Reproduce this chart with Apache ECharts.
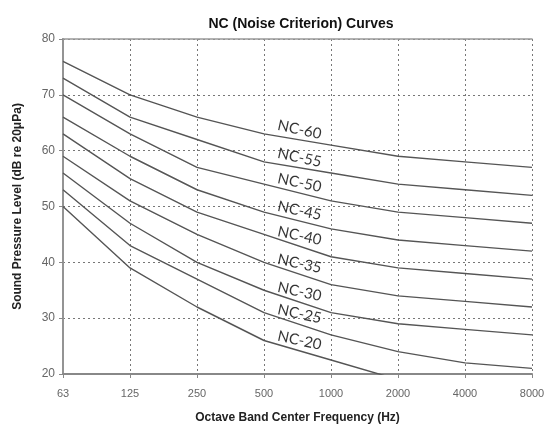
<!DOCTYPE html>
<html>
<head>
<meta charset="utf-8">
<script src="https://cdn.jsdelivr.net/npm/echarts@6/dist/echarts.min.js"></script>
<style>html,body{margin:0;padding:0;background:#fff}#c{width:553px;height:429px}</style>
</head>
<body>
<div id="c"></div>
<script>
const freqLabels = ['63','125','250','500','1000','2000','4000','8000'];
const curveNames = ['NC-60','NC-55','NC-50','NC-45','NC-40','NC-35','NC-30','NC-25','NC-20'];
const nc60 = [76,70,66,63,61,59,58,57];
const nc55 = [73,66,62,58,56,54,53,52];
const nc50 = [70,63,57,54,51,49,48,47];
const nc45 = [66,59,53,49,46,44,43,42];
const nc40 = [63,55,49,45,41,39,38,37];
const nc35 = [59,51,45,40,36,34,33,32];
const nc30 = [56,47,40,35,31,29,28,27];
const nc25 = [53,43,37,31,27,24,22,21];
const nc20 = [50,39,32,26,22.5,19,17,16];
const curves = [nc60,nc55,nc50,nc45,nc40,nc35,nc30,nc25,nc20];
const labelAt = 3.5;

const chart = echarts.init(document.getElementById('c'));
const lineSeries = curves.map((vals, k) => ({
  name: curveNames[k],
  type: 'line',
  xAxisIndex: 0, yAxisIndex: 0,
  data: vals.map((v, i) => [i, v]),
  symbol: 'none',
  lineStyle: {color: '#555', width: 1.4},
  clip: true,
  z: 3
}));
const labelData = curves.map((vals, k) => {
  const i0 = Math.floor(labelAt), t = labelAt - i0;
  const y = vals[i0] + t * (vals[i0 + 1] - vals[i0]);
  return {name: curveNames[k], value: [labelAt, y]};
});
const gridLine = {show: true, lineStyle: {color: '#777', type: [2, 3], width: 1}};
chart.setOption({
  animation: false,
  backgroundColor: '#fff',
  title: {
    text: 'NC (Noise Criterion) Curves',
    left: 296, top: 12, textAlign: 'center',
    textStyle: {fontFamily: 'Liberation Sans', fontWeight: 'bold', fontSize: 14, color: '#111'}
  },
  grid: {left: 63, right: 21, top: 39, bottom: 53},
  xAxis: [{
    type: 'value', min: 0, max: 7, interval: 1,
    name: 'Octave Band Center Frequency (Hz)',
    nameLocation: 'middle', nameGap: 38,
    nameTextStyle: {fontFamily: 'Liberation Sans', fontWeight: 'bold', fontSize: 12, color: '#222'},
    axisLine: {lineStyle: {color: '#888', width: 2}},
    axisTick: {show: true, length: 4, lineStyle: {color: '#888'}},
    axisLabel: {formatter: v => freqLabels[v], fontFamily: 'Liberation Sans', fontSize: 11, color: '#666', margin: 14},
    splitLine: gridLine
  }, {
    type: 'value', min: 0, max: 7, position: 'top',
    axisLine: {show: true, lineStyle: {color: '#999', width: 1.5}},
    axisTick: {show: false}, axisLabel: {show: false}, splitLine: {show: false}
  }],
  yAxis: [{
    type: 'value', min: 20, max: 80, interval: 10,
    name: 'Sound Pressure Level (dB re 20\u03bcPa)',
    nameLocation: 'middle', nameGap: 39,
    nameTextStyle: {fontFamily: 'Liberation Sans', fontWeight: 'bold', fontSize: 12, color: '#222'},
    axisLine: {show: true, lineStyle: {color: '#888', width: 2}},
    axisTick: {show: true, length: 4, lineStyle: {color: '#888'}},
    axisLabel: {fontFamily: 'Liberation Sans', fontSize: 12, color: '#666', margin: 8},
    splitLine: gridLine
  }, {
    type: 'value', min: 20, max: 80, position: 'right',
    axisLine: {show: true, lineStyle: {color: '#999', width: 1.5}},
    axisTick: {show: false}, axisLabel: {show: false}, splitLine: {show: false}
  }],
  series: lineSeries.concat([{
    type: 'scatter',
    xAxisIndex: 0, yAxisIndex: 0,
    data: labelData,
    symbolSize: 0,
    z: 4,
    label: {
      show: true, position: 'inside', formatter: p => p.name,
      rotate: -12, offset: [0, -10],
      fontFamily: 'Lato', fontSize: 15, color: '#000'
    }
  }])
});
</script>
</body>
</html>
